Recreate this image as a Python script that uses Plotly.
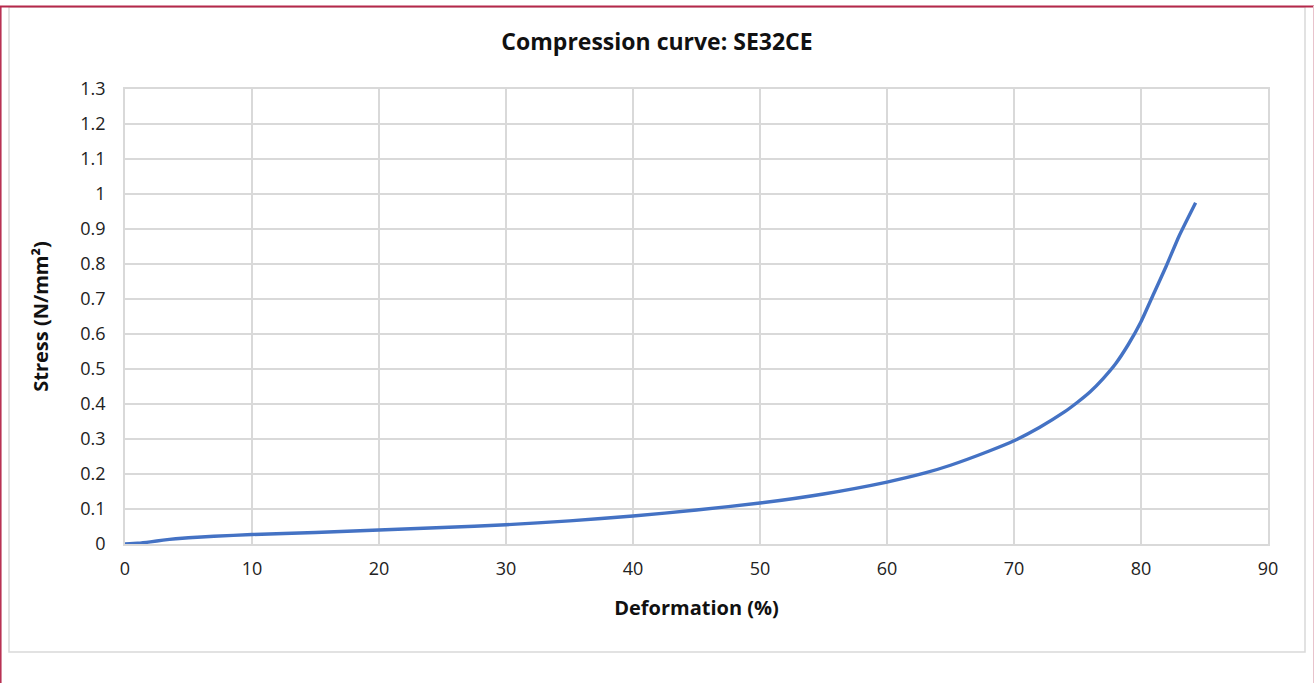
import plotly.graph_objects as go

deformation = [0, 1, 2, 3, 4, 5, 7, 10, 15, 20, 25, 30, 35, 40, 45, 50, 55, 60, 63, 65, 68, 70,
               72, 74, 75, 76, 77, 78, 79, 80, 81, 82, 83, 84.3]
stress = [0, 0.002, 0.006, 0.011, 0.015, 0.018, 0.022, 0.027, 0.033, 0.040, 0.047, 0.055, 0.066,
          0.080, 0.097, 0.117, 0.143, 0.177, 0.203, 0.225, 0.265, 0.295, 0.333, 0.378, 0.405,
          0.435, 0.472, 0.515, 0.570, 0.635, 0.715, 0.795, 0.880, 0.975]

x_ticks = [0, 10, 20, 30, 40, 50, 60, 70, 80, 90]
y_ticks = [0, 0.1, 0.2, 0.3, 0.4, 0.5, 0.6, 0.7, 0.8, 0.9, 1, 1.1, 1.2, 1.3]
y_tick_text = ["0", "0.1", "0.2", "0.3", "0.4", "0.5", "0.6", "0.7", "0.8", "0.9", "1", "1.1", "1.2", "1.3"]

W, H = 1314, 683
L, R, T, B = 125, 1268, 89, 544

def px(x):
    return (x - L) / (R - L)

def py(y):
    return (B - y) / (B - T)

fig = go.Figure()
fig.add_trace(go.Scatter(x=deformation, y=stress, mode="lines",
                         line=dict(color="#4472C4", width=3.4, shape="spline", smoothing=0.5),
                         showlegend=False, hoverinfo="x+y"))

grid = "#D9D9D9"
font = "Open Sans"
fig.update_layout(
    width=W, height=H,
    margin=dict(l=L, r=W - R, t=T, b=H - B, autoexpand=False),
    paper_bgcolor="white", plot_bgcolor="white",
    title=dict(text="<b>Compression curve: SE32CE</b>", x=0.5, xref="container", xanchor="center",
               y=1 - 42 / H, yref="container", yanchor="middle",
               font=dict(family=font, size=23, color="#111111")),
    xaxis=dict(range=[0, 90], tickvals=x_ticks, showgrid=True, gridcolor=grid, gridwidth=1.5,
               showline=True, linecolor=grid, linewidth=1.5, mirror=True, zeroline=False,
               ticks="", ticklabelstandoff=8,
               tickfont=dict(family=font, size=18, color="#222222"),
               title=dict(text="<b>Deformation (%)</b>", standoff=22,
                          font=dict(family=font, size=20, color="#111111"))),
    yaxis=dict(range=[0, 1.3], tickvals=y_ticks, ticktext=y_tick_text, showgrid=True,
               gridcolor=grid, gridwidth=1.5, showline=True, linecolor=grid, linewidth=1.5,
               mirror=True, zeroline=False, ticks="", ticklabelstandoff=14,
               tickfont=dict(family=font, size=18, color="#222222"),
               title=dict(text="<b>Stress (N/mm²)</b>", standoff=26,
                          font=dict(family=font, size=20, color="#111111"))),
    shapes=[
        dict(type="rect", xref="paper", yref="paper", x0=px(9), x1=px(1305), y0=py(652), y1=py(7),
             line=dict(color="#D9D9D9", width=1.5), fillcolor="rgba(0,0,0,0)", layer="below"),
        dict(type="line", xref="paper", yref="paper", x0=px(0), x1=px(W), y0=py(6.5), y1=py(6.5),
             line=dict(color="#B5284B", width=2)),
        dict(type="line", xref="paper", yref="paper", x0=px(0.8), x1=px(0.8), y0=py(6), y1=py(H),
             line=dict(color="#B5284B", width=1.5)),
        dict(type="line", xref="paper", yref="paper", x0=px(1313.5), x1=px(1313.5), y0=py(6), y1=py(H),
             line=dict(color="#E8C3CC", width=1)),
    ],
)

fig.write_html("out.html", config={"displayModeBar": False},
               post_script="document.body.style.margin='0';document.body.style.overflow='hidden';")
